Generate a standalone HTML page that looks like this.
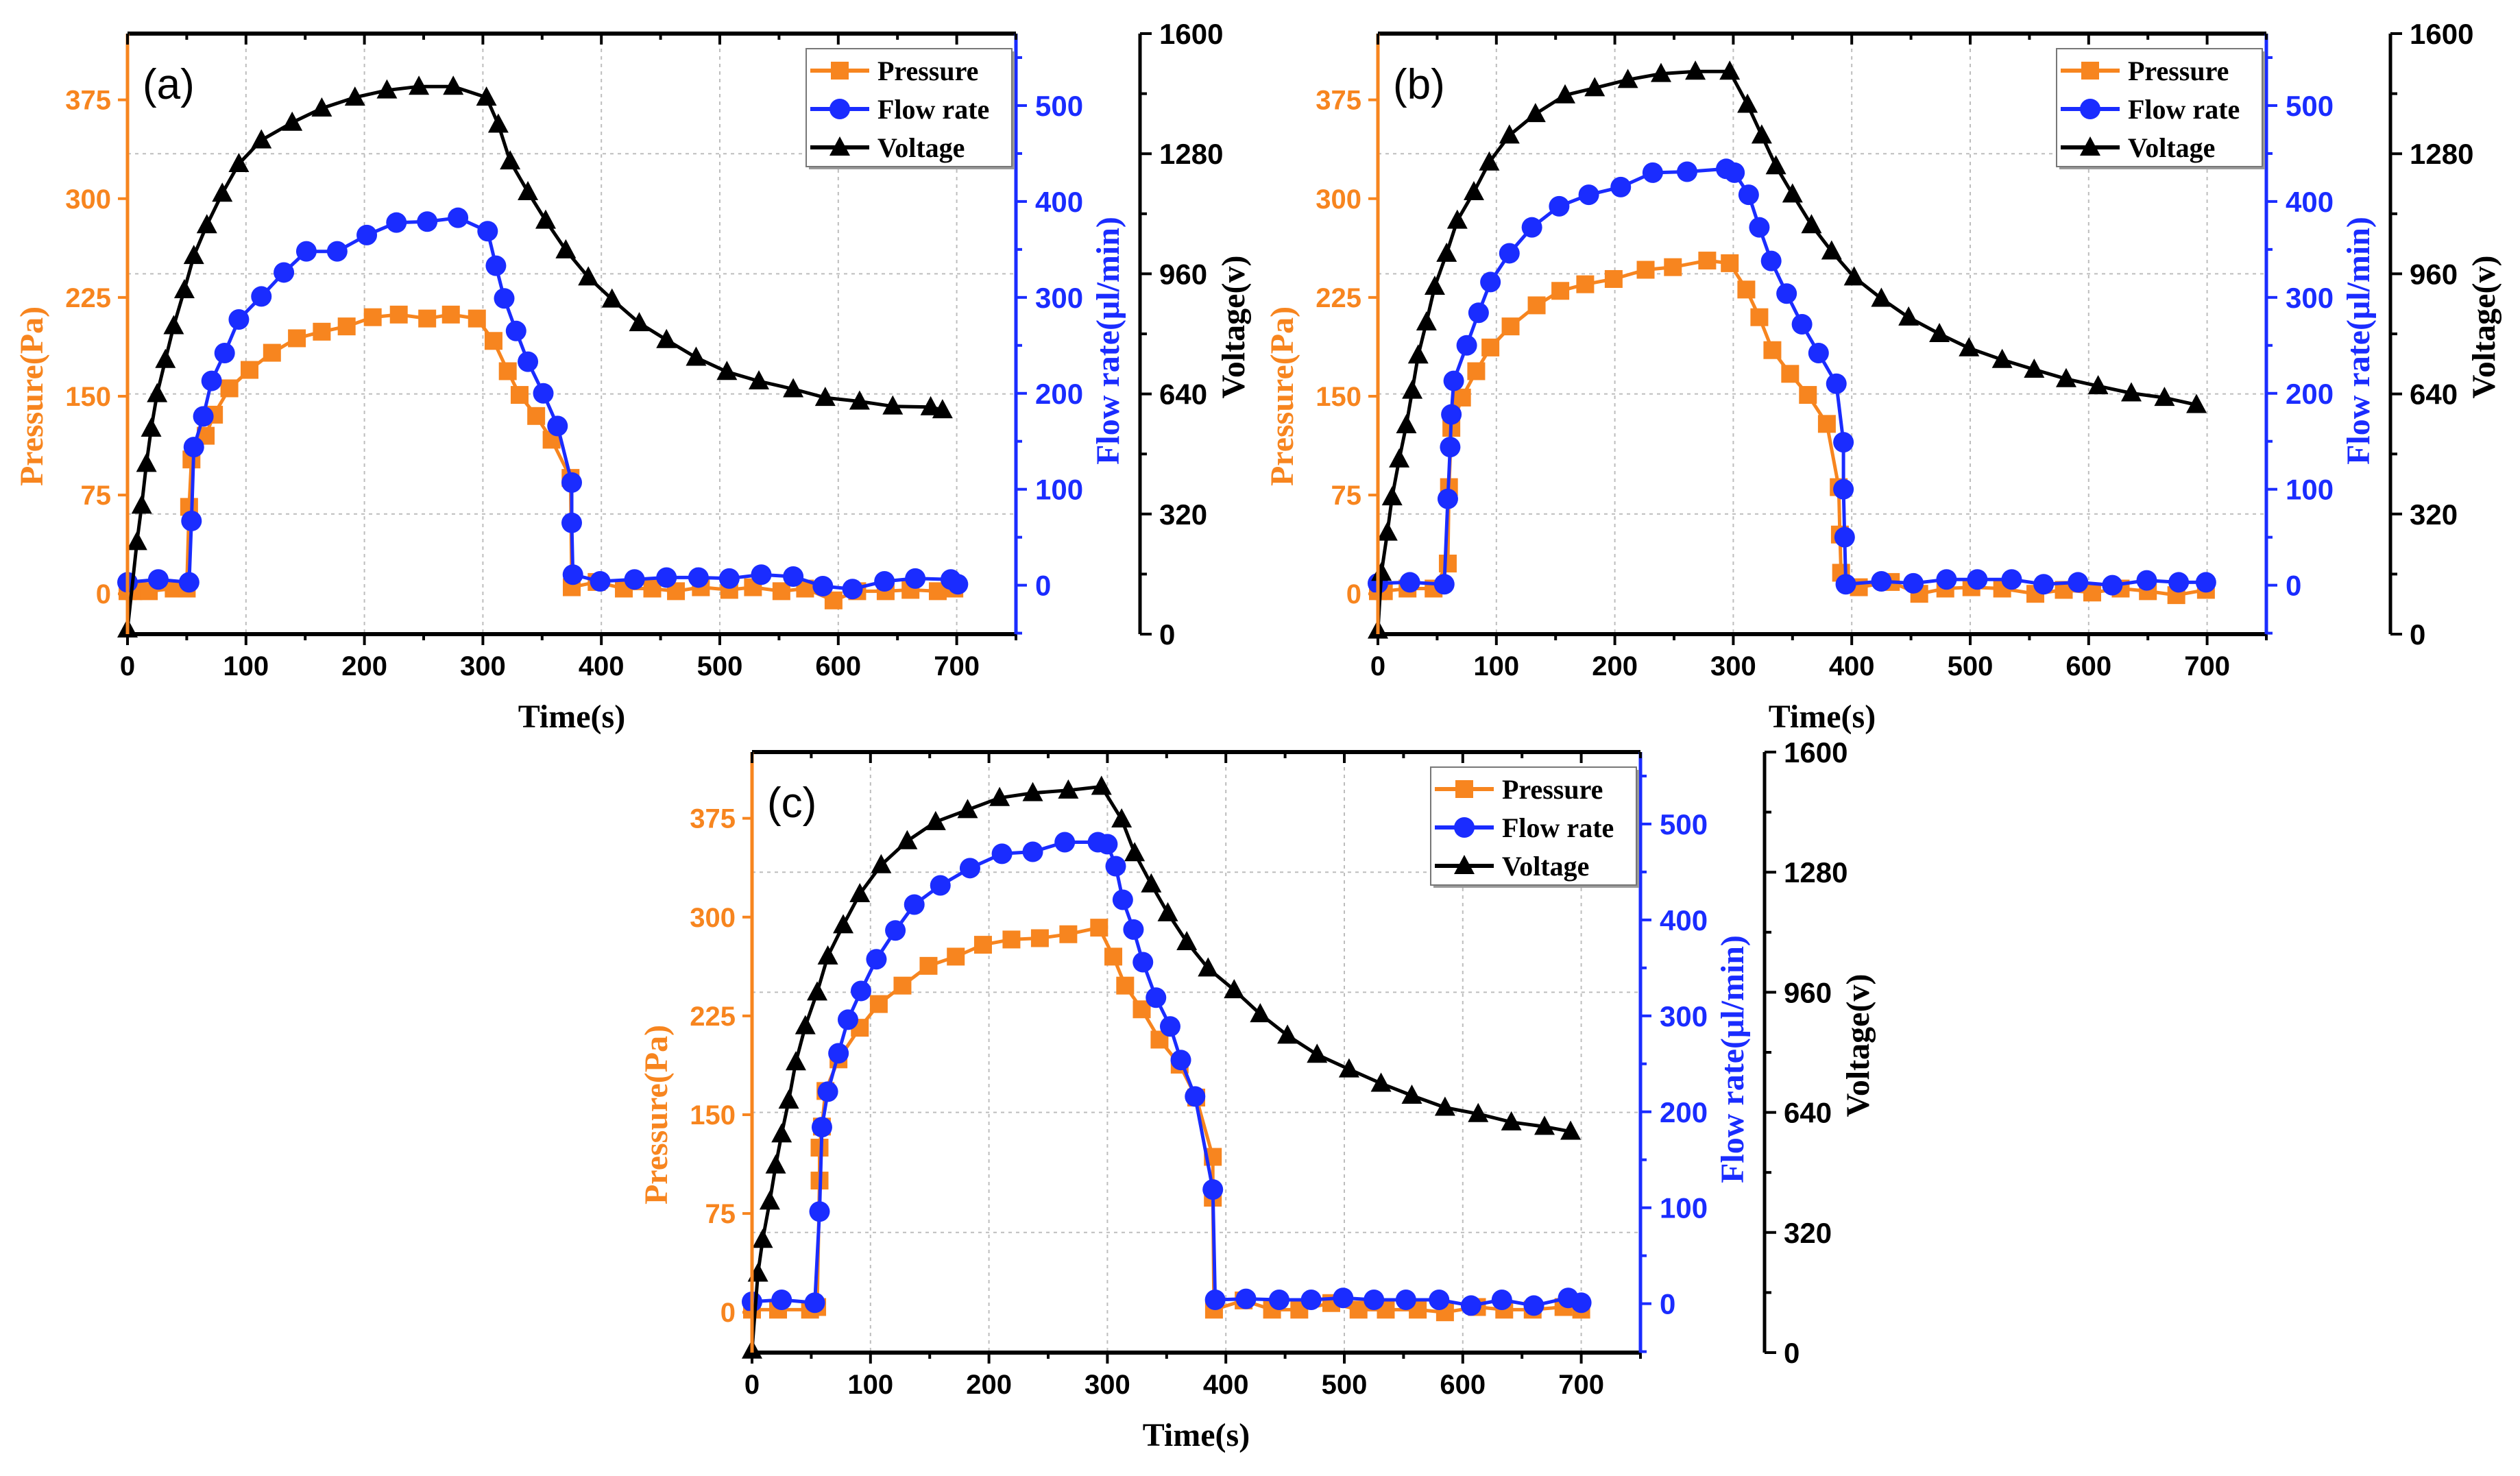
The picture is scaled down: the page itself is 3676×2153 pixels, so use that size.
<!DOCTYPE html>
<html><head><meta charset="utf-8">
<style>
html,body{margin:0;padding:0;background:#fff;}
svg{display:block;}
</style></head>
<body>
<svg id="chart" width="3676" height="2153" viewBox="0 0 3676 2153" xmlns="http://www.w3.org/2000/svg"></svg>
<script>
// ---------- data: panel (a) ----------
const aVoltT = [0,8,12,16,20,25,32,39,48,56,67,80,94,113,139,164,192,219,246,275,303,313,323,338,353,370,389,409,432,455,480,506,533,562,589,618,646,678,688];
const aVoltV = [13,246,343,454,548,640,731,821,917,1008,1090,1174,1253,1316,1363,1401,1430,1449,1459,1459,1430,1358,1260,1178,1102,1023,951,892,829,784,737,699,674,653,630,620,607,605,597];
const aPresT = [0,5,18,39,50,52,54,66,73,86,103,122,143,164,185,207,229,253,273,295,309,321,331,345,358,374,375,396,419,443,463,484,508,528,552,572,596,616,640,661,684,698];
const aPresV = [2,2,2,4,4,66,102,120,136,156,170,183,194,199,203,210,212,209,212,209,192,169,151,135,117,88,5,9,4,4,2,5,3,5,2,4,-5,2,2,3,2,4];
const aFlowT = [0,26,52,54,56,64,71,82,94,113,132,151,177,202,227,253,279,304,311,318,328,338,351,363,375,375,376,399,428,455,482,508,535,562,587,612,639,665,695,701];
const aFlowV = [3,6,3,67,144,176,213,242,277,301,326,348,348,365,378,379,383,369,333,299,265,233,200,166,107,65,11,4,6,8,8,7,11,9,-1,-4,4,7,6,1];
// ---------- data: panel (b) ----------
const bVoltT = [0,3,8,12,18,24,29,34,41,48,58,67,81,94,111,133,158,183,211,239,268,297,312,324,336,350,366,383,402,425,448,474,499,527,554,581,608,636,664,691];
const bVoltV = [10,164,271,365,466,557,649,743,831,926,1014,1102,1178,1257,1329,1386,1436,1455,1477,1493,1499,1499,1411,1329,1247,1172,1090,1020,951,894,844,800,762,731,705,680,661,642,630,611];
const bPresT = [0,5,25,47,59,60,62,71,83,95,112,134,154,175,199,226,249,278,297,311,322,333,348,363,379,389,390,391,406,433,457,479,501,527,555,579,603,627,650,674,699];
const bPresV = [2,2,4,4,23,81,126,149,169,187,203,219,230,235,239,246,248,253,251,231,210,185,167,151,129,81,45,16,5,9,0,4,5,4,0,3,1,4,2,-1,3];
const bFlowT = [0,27,56,59,61,62,64,75,85,95,111,130,153,178,205,232,261,294,301,313,322,332,345,358,372,387,393,393,394,395,425,452,480,506,535,562,591,620,649,676,699];
const bFlowV = [2,3,1,90,144,178,213,250,284,316,346,373,395,407,415,430,431,434,430,407,373,338,304,272,242,210,149,100,50,1,4,2,6,6,6,1,3,0,5,3,3];
// ---------- data: panel (c) ----------
const cVoltT = [0,5,9,15,20,25,31,37,45,55,64,77,91,109,131,155,182,209,237,267,295,312,323,337,351,367,385,407,429,452,477,504,531,557,585,613,641,669,691];
const cVoltV = [6,211,301,403,499,582,672,774,870,960,1056,1139,1222,1299,1363,1414,1446,1478,1491,1498,1508,1421,1331,1248,1171,1094,1024,966,902,845,794,755,717,685,653,636,614,602,589];
const cPresT = [0,22,49,55,57,57,59,62,73,91,107,127,149,172,195,219,243,267,293,305,315,329,344,361,375,389,389,390,415,439,462,489,512,535,562,585,612,635,659,685,700];
const cPresV = [2,2,2,4,100,125,141,168,192,216,234,248,263,270,279,283,284,287,292,270,248,230,207,188,163,118,87,2,9,2,2,7,2,2,2,0,4,2,2,4,2];
const cFlowT = [0,25,53,57,59,64,73,81,92,105,121,137,159,184,211,237,264,292,300,307,313,322,330,341,353,362,374,389,391,417,445,472,499,525,552,580,607,633,660,689,700];
const cFlowV = [2,4,1,96,184,221,261,296,326,359,389,416,436,454,469,471,481,481,479,456,421,390,356,319,289,254,216,119,4,5,4,4,6,4,4,4,-2,4,-2,6,1];

// ---------- axis ticks ----------
const xTicks = [0,100,200,300,400,500,600,700];
const pTicks = [0,75,150,225,300,375];
const fTicks = [0,100,200,300,400,500];
const vTicks = [0,320,640,960,1280,1600];
const legendLabels = ['Pressure','Flow rate','Voltage'];
const panelLabels = ['(a)','(b)','(c)'];

const ORANGE = '#f7851f', BLUE = '#1a2cff', BLACK = '#000';
const W = 1296, H = 876;
const X_MIN = 0, X_MAX = 750, P_MIN = -30.6, P_MAX = 425.3, F_MIN = -51, F_MAX = 575, V_MIN = 0, V_MAX = 1600;
const NS = 'http://www.w3.org/2000/svg';
const svg = document.getElementById('chart');

function mk(tag, attrs, parent) {
  const e = document.createElementNS(NS, tag);
  for (const k in attrs) e.setAttribute(k, attrs[k]);
  (parent || svg).appendChild(e);
  return e;
}
function txt(parent, x, y, s, attrs) {
  const t = mk('text', Object.assign({x: x, y: y}, attrs), parent);
  t.textContent = s;
  return t;
}

function marker(g, type, x, y, color) {
  let m;
  if (type === 'square') {
    m = mk('rect', {x: x - 13, y: y - 13, width: 26, height: 26, fill: color}, g);
  } else if (type === 'circle') {
    m = mk('circle', {cx: x, cy: y, r: 15, fill: color}, g);
  } else {
    m = mk('polygon', {points: (x) + ',' + (y - 16) + ' ' + (x - 15) + ',' + (y + 12) + ' ' + (x + 15) + ',' + (y + 12), fill: color}, g);
  }
  return m;
}

function drawPanel(ox, oy, label, vt, vv, pt, pv, ft, fv, idx) {
  const g = mk('g', {});
  
  
  const sx = t => ox + (t - X_MIN) / (X_MAX - X_MIN) * W;
  const sp = v => oy + H - (v - P_MIN) / (P_MAX - P_MIN) * H;
  const sf = v => oy + H - (v - F_MIN) / (F_MAX - F_MIN) * H;
  const sv = v => oy + H - (v - V_MIN) / (V_MAX - V_MIN) * H;

  const grid = mk('g', {stroke: '#bdbdbd', 'stroke-width': 2, 'stroke-dasharray': '5,6'}, g);
  
  
  xTicks.slice(1).forEach(t => mk('line', {x1: sx(t), x2: sx(t), y1: oy, y2: oy + H}, grid));
  vTicks.slice(1, -1).forEach(v => mk('line', {x1: ox, x2: ox + W, y1: sv(v), y2: sv(v)}, grid));

  function series(ts, vs, scale, color, type, name) {
    const sg = mk('g', {}, g);
    
    
    let d = '';
    ts.forEach((t, i) => { d += (i ? 'L' : 'M') + sx(t).toFixed(1) + ',' + scale(vs[i]).toFixed(1); });
    mk('path', {d: d, fill: 'none', stroke: color, 'stroke-width': 5, 'stroke-linejoin': 'round'}, sg);
    ts.forEach((t, i) => {
      const m = marker(sg, type, sx(t), scale(vs[i]), color);
      
      
    });
  }
  series(pt, pv, sp, ORANGE, 'square', 'pressure-series');
  series(ft, fv, sf, BLUE, 'circle', 'flow-rate-series');
  series(vt, vv, sv, BLACK, 'triangle', 'voltage-series');

  mk('line', {x1: ox, x2: ox + W, y1: oy, y2: oy, stroke: BLACK, 'stroke-width': 6}, g);
  mk('line', {x1: ox, x2: ox + W, y1: oy + H, y2: oy + H, stroke: BLACK, 'stroke-width': 6}, g);
  mk('line', {x1: ox, x2: ox, y1: oy, y2: oy + H, stroke: ORANGE, 'stroke-width': 5}, g);
  mk('line', {x1: ox + W, x2: ox + W, y1: oy, y2: oy + H, stroke: BLUE, 'stroke-width': 5}, g);

  const xa = mk('g', {}, g);
  
  
  for (let t = 0; t <= 750; t += 50) {
    const major = t % 100 === 0;
    mk('line', {x1: sx(t), x2: sx(t), y1: oy + H, y2: oy + H + (major ? 16 : 9), stroke: BLACK, 'stroke-width': 4}, xa);
    mk('line', {x1: sx(t), x2: sx(t), y1: oy, y2: oy + (major ? 16 : 9), stroke: BLACK, 'stroke-width': 4}, xa);
  }
  xTicks.forEach(t => {
    const e = txt(xa, sx(t), oy + H + 60, String(t), {'font-family': 'Liberation Sans, sans-serif', 'font-size': 40, 'font-weight': 'bold', 'text-anchor': 'middle', fill: BLACK});
    
    
  });
  const xt = txt(xa, ox + W / 2, oy + H + 136, 'Time(s)', {'font-family': 'Liberation Serif, serif', 'font-size': 48, 'font-weight': 'bold', 'text-anchor': 'middle', fill: BLACK});
  
  

  const pa = mk('g', {}, g);
  
  
  pTicks.forEach(v => {
    mk('line', {x1: ox - 14, x2: ox, y1: sp(v), y2: sp(v), stroke: ORANGE, 'stroke-width': 4}, pa);
    const e = txt(pa, ox - 24, sp(v) + 14, String(v), {'font-family': 'Liberation Sans, sans-serif', 'font-size': 40, 'font-weight': 'bold', 'text-anchor': 'end', fill: ORANGE});
    
    
  });
  const pt2 = txt(pa, 0, 0, 'Pressure(Pa)', {'font-family': 'Liberation Serif, serif', 'font-size': 48, 'font-weight': 'bold', 'text-anchor': 'middle', fill: ORANGE, transform: 'translate(' + (ox - 124) + ',' + sp(150) + ') rotate(-90)'});
  
  

  const fa = mk('g', {}, g);
  
  
  for (let v = -50; v <= 550; v += 50) {
    const major = v % 100 === 0;
    mk('line', {x1: ox + W, x2: ox + W + (major ? 16 : 9), y1: sf(v), y2: sf(v), stroke: BLUE, 'stroke-width': 4}, fa);
  }
  fTicks.forEach(v => {
    const e = txt(fa, ox + W + 28, sf(v) + 15, String(v), {'font-family': 'Liberation Sans, sans-serif', 'font-size': 42, 'font-weight': 'bold', 'text-anchor': 'start', fill: BLUE});
    
    
  });
  const ftl = txt(fa, 0, 0, 'Flow rate(\u03bcl/min)', {'font-family': 'Liberation Serif, serif', 'font-size': 48, 'font-weight': 'bold', 'text-anchor': 'middle', fill: BLUE, transform: 'translate(' + (ox + W + 150) + ',' + (oy + H / 2 + 10) + ') rotate(-90)'});
  
  

  const va = mk('g', {}, g);
  
  
  const vx = ox + W + 181;
  mk('line', {x1: vx, x2: vx, y1: oy, y2: oy + H, stroke: BLACK, 'stroke-width': 5}, va);
  for (let v = 0; v <= 1600; v += 160) {
    const major = v % 320 === 0;
    mk('line', {x1: vx, x2: vx + (major ? 17 : 10), y1: sv(v), y2: sv(v), stroke: BLACK, 'stroke-width': 4}, va);
  }
  vTicks.forEach(v => {
    const e = txt(va, vx + 28, sv(v) + 15, String(v), {'font-family': 'Liberation Sans, sans-serif', 'font-size': 42, 'font-weight': 'bold', 'text-anchor': 'start', fill: BLACK});
    
    
  });
  const vtl = txt(va, 0, 0, 'Voltage(v)', {'font-family': 'Liberation Serif, serif', 'font-size': 48, 'font-weight': 'bold', 'text-anchor': 'middle', fill: BLACK, transform: 'translate(' + (vx + 152) + ',' + (oy + H / 2 - 10) + ') rotate(-90)'});
  
  

  const pl = txt(g, ox + 22, oy + 95, label, {'font-family': 'Liberation Sans, sans-serif', 'font-size': 62, fill: BLACK});
  
  

  const lg = mk('g', {}, g);
  
  
  const lx = ox + W - 306, ly = oy + 22;
  mk('rect', {x: lx + 4, y: ly + 4, width: 300, height: 172, fill: '#9a9a9a'}, lg);
  mk('rect', {x: lx, y: ly, width: 300, height: 172, fill: '#fff', stroke: '#777', 'stroke-width': 2}, lg);
  const cols = [ORANGE, BLUE, BLACK], types = ['square', 'circle', 'triangle'];
  legendLabels.forEach((s, i) => {
    const ey = ly + 32 + i * 56;
    const eg = mk('g', {}, lg);
    
    
    mk('line', {x1: lx + 6, x2: lx + 92, y1: ey, y2: ey, stroke: cols[i], 'stroke-width': 6}, eg);
    marker(eg, types[i], lx + 49, ey, cols[i]);
    txt(eg, lx + 104, ey + 14, s, {'font-family': 'Liberation Serif, serif', 'font-size': 40, 'font-weight': 'bold', fill: BLACK});
  });
}

drawPanel(186, 49, panelLabels[0], aVoltT, aVoltV, aPresT, aPresV, aFlowT, aFlowV, 0);
drawPanel(2010, 49, panelLabels[1], bVoltT, bVoltV, bPresT, bPresV, bFlowT, bFlowV, 1);
drawPanel(1097, 1097, panelLabels[2], cVoltT, cVoltV, cPresT, cPresV, cFlowT, cFlowV, 2);
</script>
</body></html>
